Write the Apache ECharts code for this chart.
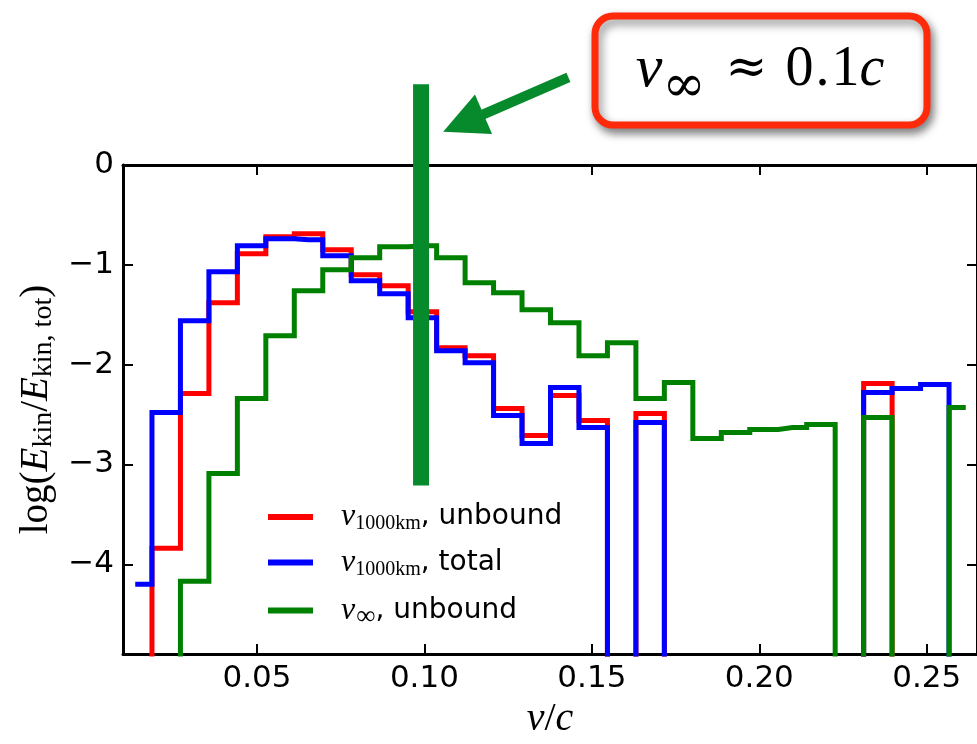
<!DOCTYPE html>
<html><head><meta charset="utf-8">
<script src="https://cdn.jsdelivr.net/npm/echarts@6/dist/echarts.min.js"></script>
<style>html,body{margin:0;padding:0;background:#fff}#c{width:977px;height:744px}</style>
</head><body><div id="c"></div>
<script>
// bin centres (v/c)
const binCenters = [0.0144, 0.0229, 0.0314, 0.0399, 0.0484, 0.0569, 0.0654, 0.0739, 0.0824, 0.0909,
                    0.0994, 0.1079, 0.1164, 0.1249, 0.1334, 0.1419, 0.1504, 0.1589, 0.1674, 0.1759,
                    0.1844, 0.1929, 0.2014, 0.2099, 0.2184, 0.2269, 0.2354, 0.2439, 0.2524, 0.2609];
// empty bin: log(0) -> -infinity, falls below the axis
const EMPTY = -10;
const unbound1000 = [EMPTY, -3.84, -2.29, -1.38, -0.89, -0.72, -0.69, -0.85, -1.10, -1.21,
                     -1.47, -1.83, -1.91, -2.44, -2.71, -2.31, -2.56, EMPTY, -2.49, EMPTY,
                     EMPTY, EMPTY, EMPTY, EMPTY, EMPTY, EMPTY, -2.19, EMPTY, EMPTY, EMPTY];
const total1000   = [-4.20, -2.48, -1.56, -1.07, -0.81, -0.74, -0.75, -0.91, -1.16, -1.29,
                     -1.53, -1.86, -1.98, -2.51, -2.79, -2.23, -2.63, EMPTY, -2.58, EMPTY,
                     EMPTY, EMPTY, EMPTY, EMPTY, EMPTY, EMPTY, -2.28, -2.24, -2.20, EMPTY];
const unboundInf  = [EMPTY, EMPTY, -4.17, -3.09, -2.34, -1.71, -1.26, -1.05, -0.93, -0.82,
                     -0.81, -0.93, -1.18, -1.28, -1.45, -1.58, -1.91, -1.78, -2.34, -2.18,
                     -2.74, -2.68, -2.65, -2.63, -2.60, EMPTY, -2.53, EMPTY, EMPTY, -2.43];
const seriesNames = ['v1000km, unbound', 'v1000km, total', 'vinf, unbound'];
const xTicks = [0.05, 0.10, 0.15, 0.20, 0.25];
const yTicks = [0, -1, -2, -3, -4];
// annotation: marker at v_inf ~ 0.1c and arrow pointing at it
const markerX = 0.099;
const markerY = [0.81, -3.21];
const arrowTail = [0.1430, 0.877];
const arrowTip = [0.1056, 0.332];
const boxText = '{v|v}{s|\u221e}{a|\u2248}{r|0}{d|.}{r|1}{c|c}';

const chart = echarts.init(document.getElementById('c'), null, {renderer: 'canvas'});
const pair = arr => binCenters.map((x, i) => [x, arr[i]]);
const colors = ['#ff0000', '#0000ff', '#008000'];
const ANN = '#068a2c';

const legendRich = {
  v: {fontFamily: 'Liberation Serif', fontStyle: 'italic', fontSize: 32, lineHeight: 32, padding: [0, 0, 0, 23], color: '#000'},
  sub: {fontFamily: 'Liberation Serif', fontSize: 20, lineHeight: 18, padding: [14, 0, 0, 0], color: '#000'},
  inf: {fontFamily: 'Liberation Serif', fontSize: 27, lineHeight: 18, padding: [12, 0, 0, 1], color: '#000'},
  t: {fontFamily: 'DejaVu Sans', fontSize: 28, lineHeight: 32, color: '#000'}
};
const legendLabels = {
  'v1000km, unbound': '{v|v}{sub|1000km}{t|, unbound}',
  'v1000km, total': '{v|v}{sub|1000km}{t|, total}',
  'vinf, unbound': '{v|v}{inf|\u221e}{t|, unbound}'
};

const axisCommon = {
  axisLine: {onZero: false, lineStyle: {color: '#000', width: 3}},
  splitLine: {show: false}
};

chart.setOption({
  animation: false,
  backgroundColor: '#fff',
  grid: {left: 123, right: -3, top: 165, bottom: 87},
  legend: {
    orient: 'vertical', left: 268, top: 500, padding: 0,
    itemWidth: 45, itemHeight: 6, itemGap: 11.5, icon: 'rect',
    data: seriesNames,
    formatter: n => legendLabels[n],
    textStyle: {rich: legendRich}
  },
  xAxis: [
    Object.assign({}, axisCommon, {
      type: 'value', min: 0.01, max: 0.265, position: 'bottom',
      axisTick: {inside: true, length: 10, lineStyle: {color: '#000', width: 2}, customValues: xTicks},
      axisLabel: {customValues: xTicks, formatter: v => v.toFixed(2), fontFamily: 'DejaVu Sans', fontSize: 31, color: '#000', margin: 9},
      name: '{i|v}{r|/}{i|c}', nameLocation: 'middle', nameGap: 40,
      nameTextStyle: {rich: {
        i: {fontFamily: 'Liberation Serif', fontStyle: 'italic', fontSize: 40, lineHeight: 42, color: '#000'},
        r: {fontFamily: 'Liberation Serif', fontSize: 40, lineHeight: 42, color: '#000'}
      }}
    }),
    Object.assign({}, axisCommon, {
      type: 'value', min: 0.01, max: 0.265, position: 'top',
      axisTick: {inside: true, length: 10, lineStyle: {color: '#000', width: 2}, customValues: xTicks},
      axisLabel: {show: false}
    })
  ],
  yAxis: [
    Object.assign({}, axisCommon, {
      type: 'value', min: -4.9, max: 0, position: 'left',
      axisTick: {inside: true, length: 10, lineStyle: {color: '#000', width: 2}, customValues: yTicks},
      axisLabel: {customValues: yTicks, formatter: v => (v === 0 ? '0' : '\u2212' + Math.abs(v)), fontFamily: 'DejaVu Sans', fontSize: 31, color: '#000', margin: 9},
      name: '{r|log(}{i|E}{s|kin}{r|/}{i|E}{s|kin, tot}{r|)}', nameLocation: 'middle', nameRotate: 90, nameGap: 65,
      nameTextStyle: {rich: {
        r: {fontFamily: 'Liberation Serif', fontSize: 39, lineHeight: 40, color: '#000'},
        i: {fontFamily: 'Liberation Serif', fontStyle: 'italic', fontSize: 39, lineHeight: 40, color: '#000'},
        s: {fontFamily: 'Liberation Serif', fontSize: 28, lineHeight: 26, padding: [14, 0, 0, 0], color: '#000'}
      }}
    }),
    Object.assign({}, axisCommon, {
      type: 'value', min: -4.9, max: 0, position: 'right',
      axisTick: {inside: true, length: 10, lineStyle: {color: '#000', width: 2}, customValues: yTicks},
      axisLabel: {show: false}
    })
  ],
  series: [
    {name: seriesNames[0], data: pair(unbound1000), color: colors[0]},
    {name: seriesNames[1], data: pair(total1000), color: colors[1]},
    {name: seriesNames[2], data: pair(unboundInf), color: colors[2]}
  ].map(s => ({
    type: 'line', name: s.name, data: s.data, step: 'middle', symbol: 'none', clip: true,
    itemStyle: {color: s.color},
    lineStyle: {color: s.color, width: 5, cap: 'square', join: 'miter'}
  })).concat([{
    type: 'line', name: 'marker', data: [[markerX, markerY[0]], [markerX, markerY[1]]],
    symbol: 'none', clip: false, silent: true, z: 5,
    lineStyle: {color: ANN, width: 16, cap: 'butt'}, itemStyle: {color: ANN}
  }])
});

// arrow, anchored in data coordinates
const T = chart.convertToPixel({xAxisIndex: 0, yAxisIndex: 0}, arrowTip);
const S = chart.convertToPixel({xAxisIndex: 0, yAxisIndex: 0}, arrowTail);
const dx = S[0] - T[0], dy = S[1] - T[1], L = Math.hypot(dx, dy);
const ux = dx / L, uy = dy / L, nx = -uy, ny = ux;
const headLen = 44, halfW = 21.5;
const B = [T[0] + ux * headLen, T[1] + uy * headLen];

const serif = 'Liberation Serif';
chart.setOption({
  graphic: [
    {type: 'line', z: 10, shape: {x1: S[0], y1: S[1], x2: B[0] - ux * 4, y2: B[1] - uy * 4},
     style: {stroke: ANN, lineWidth: 10, lineCap: 'butt'}},
    {type: 'polygon', z: 10, shape: {points: [T, [B[0] + nx * halfW, B[1] + ny * halfW], [B[0] - nx * halfW, B[1] - ny * halfW]]},
     style: {fill: ANN}},
    {type: 'rect', z: 10, shape: {x: 595, y: 16, width: 332, height: 109, r: 18},
     style: {fill: '#fff', stroke: '#ff2a0a', lineWidth: 7, shadowBlur: 10, shadowColor: 'rgba(0,0,0,0.45)', shadowOffsetX: 3, shadowOffsetY: 5}},
    {type: 'text', z: 11, x: 760, y: 70,
     style: {text: boxText, align: 'center', verticalAlign: 'middle',
       rich: {
         v: {fontFamily: serif, fontStyle: 'italic', fontSize: 60, lineHeight: 60, fill: '#000'},
         s: {fontFamily: 'DejaVu Serif', fontSize: 52, lineHeight: 30, padding: [34, 0, 0, 0], fill: '#000'},
         a: {fontFamily: 'DejaVu Serif', fontSize: 50, lineHeight: 60, padding: [0, 18, 0, 20], fill: '#000'},
         r: {fontFamily: serif, fontSize: 56, lineHeight: 60, fill: '#000'},
         d: {fontFamily: serif, fontSize: 56, lineHeight: 60, padding: [0, 2, 0, 2], fill: '#000'},
         c: {fontFamily: serif, fontStyle: 'italic', fontSize: 56, lineHeight: 60, fill: '#000'}
       }}}
  ]
});
</script>
</body></html>
